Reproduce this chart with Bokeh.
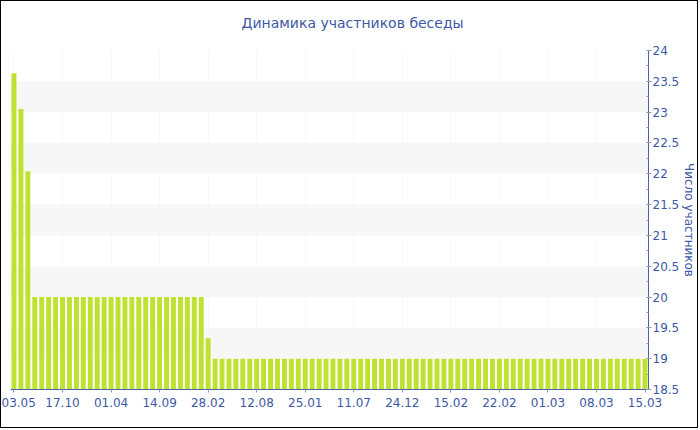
from bokeh.plotting import figure
from bokeh.models import Range1d, FixedTicker, SingleIntervalTicker, NumeralTickFormatter, ColumnDataSource, Title
from bokeh.embed import file_html
from bokeh.resources import INLINE

title_text = "Динамика участников беседы"
y_title = "Число участников"

tick_labels = ["03.05", "17.10", "01.04", "14.09", "28.02", "12.08", "25.01",
               "11.07", "24.12", "15.02", "22.02", "01.03", "08.03", "15.03"]

values = [23.63, 23.05, 22.04,
          20, 20, 20, 20, 20, 20, 20, 20, 20, 20, 20, 20, 20, 20, 20, 20, 20, 20, 20, 20, 20, 20, 20, 20, 20,
          19.33,
          19, 19, 19, 19, 19, 19, 19, 19, 19, 19, 19, 19, 19, 19, 19, 19, 19, 19, 19, 19, 19,
          19, 19, 19, 19, 19, 19, 19, 19, 19, 19, 19, 19, 19, 19, 19, 19, 19, 19, 19, 19, 19,
          19, 19, 19, 19, 19, 19, 19, 19, 19, 19, 19, 19, 19, 19, 19, 19, 19, 19, 19, 19, 19]

y_min, y_max = 18.5, 24

n = len(values)
xs = list(range(n))
step = (n - 1) // (len(tick_labels) - 1)
tick_pos = [i * step for i in range(len(tick_labels))]

TEXT = "#3d58a6"
AXIS = "#4d60a8"
FONT = "DejaVu Sans"

p = figure(width=698, height=428, output_backend="svg", toolbar_location=None,
           x_range=Range1d(-0.5, n - 0.5), y_range=Range1d(y_min, y_max),
           y_axis_location="right", min_border_left=9, min_border_right=0,
           min_border_bottom=40, min_border_top=0, outline_line_color=None,
           background_fill_color="white", border_fill_color="white")
p.styles = {"border": "1px solid black"}

# spacer between title and plot frame
p.add_layout(Title(text=" ", text_font_size="1px", standoff=5), "above")

p.title.text = title_text
p.title.align = "left"
p.title.offset = 231
p.title.standoff = 23
p.title.text_font = FONT
p.title.text_font_size = "14px"
p.title.text_font_style = "normal"
p.title.text_color = TEXT

src = ColumnDataSource(dict(x=xs, top=values))
p.vbar(x="x", top="top", bottom=y_min, width=0.72, source=src,
       fill_color="#bfe232", line_color=None)

# x axis
xt = FixedTicker(ticks=tick_pos)
p.xaxis.ticker = xt
p.xaxis.major_label_overrides = {t: lab for t, lab in zip(tick_pos, tick_labels)}
p.xaxis.axis_line_color = AXIS
p.xaxis.major_tick_line_color = "#8f98c0"
p.xaxis.major_tick_in = 0
p.xaxis.major_tick_out = 3
p.xaxis.minor_tick_line_color = None
p.xaxis.major_label_text_color = TEXT
p.xaxis.major_label_text_font = FONT
p.xaxis.major_label_text_font_size = "12px"
p.xaxis.major_label_standoff = 5

# y axis
yt = SingleIntervalTicker(interval=0.5, num_minor_ticks=2)
p.yaxis.ticker = yt
p.yaxis.formatter = NumeralTickFormatter(format="0.[0]")
p.yaxis.axis_label = y_title
p.yaxis.axis_label_text_color = TEXT
p.yaxis.axis_label_text_font = FONT
p.yaxis.axis_label_text_font_size = "12px"
p.yaxis.axis_label_text_font_style = "normal"
p.yaxis.axis_label_standoff = 0
p.yaxis.axis_line_color = AXIS
p.yaxis.major_tick_line_color = "#8f98c0"
p.yaxis.minor_tick_line_color = "#a0a0a0"
p.yaxis.major_tick_in = 2
p.yaxis.major_tick_out = 3
p.yaxis.minor_tick_in = 2
p.yaxis.minor_tick_out = 0
p.yaxis.major_label_text_color = TEXT
p.yaxis.major_label_text_font = FONT
p.yaxis.major_label_text_font_size = "12px"
p.yaxis.major_label_standoff = 1

# grids
p.ygrid.grid_line_color = None
p.ygrid.band_fill_color = "#f7f7f7"
p.ygrid.band_fill_alpha = 1
p.xgrid.ticker = xt
p.xgrid.grid_line_color = "#f8f8f8"

open("out.html", "w").write(file_html(p, INLINE))
